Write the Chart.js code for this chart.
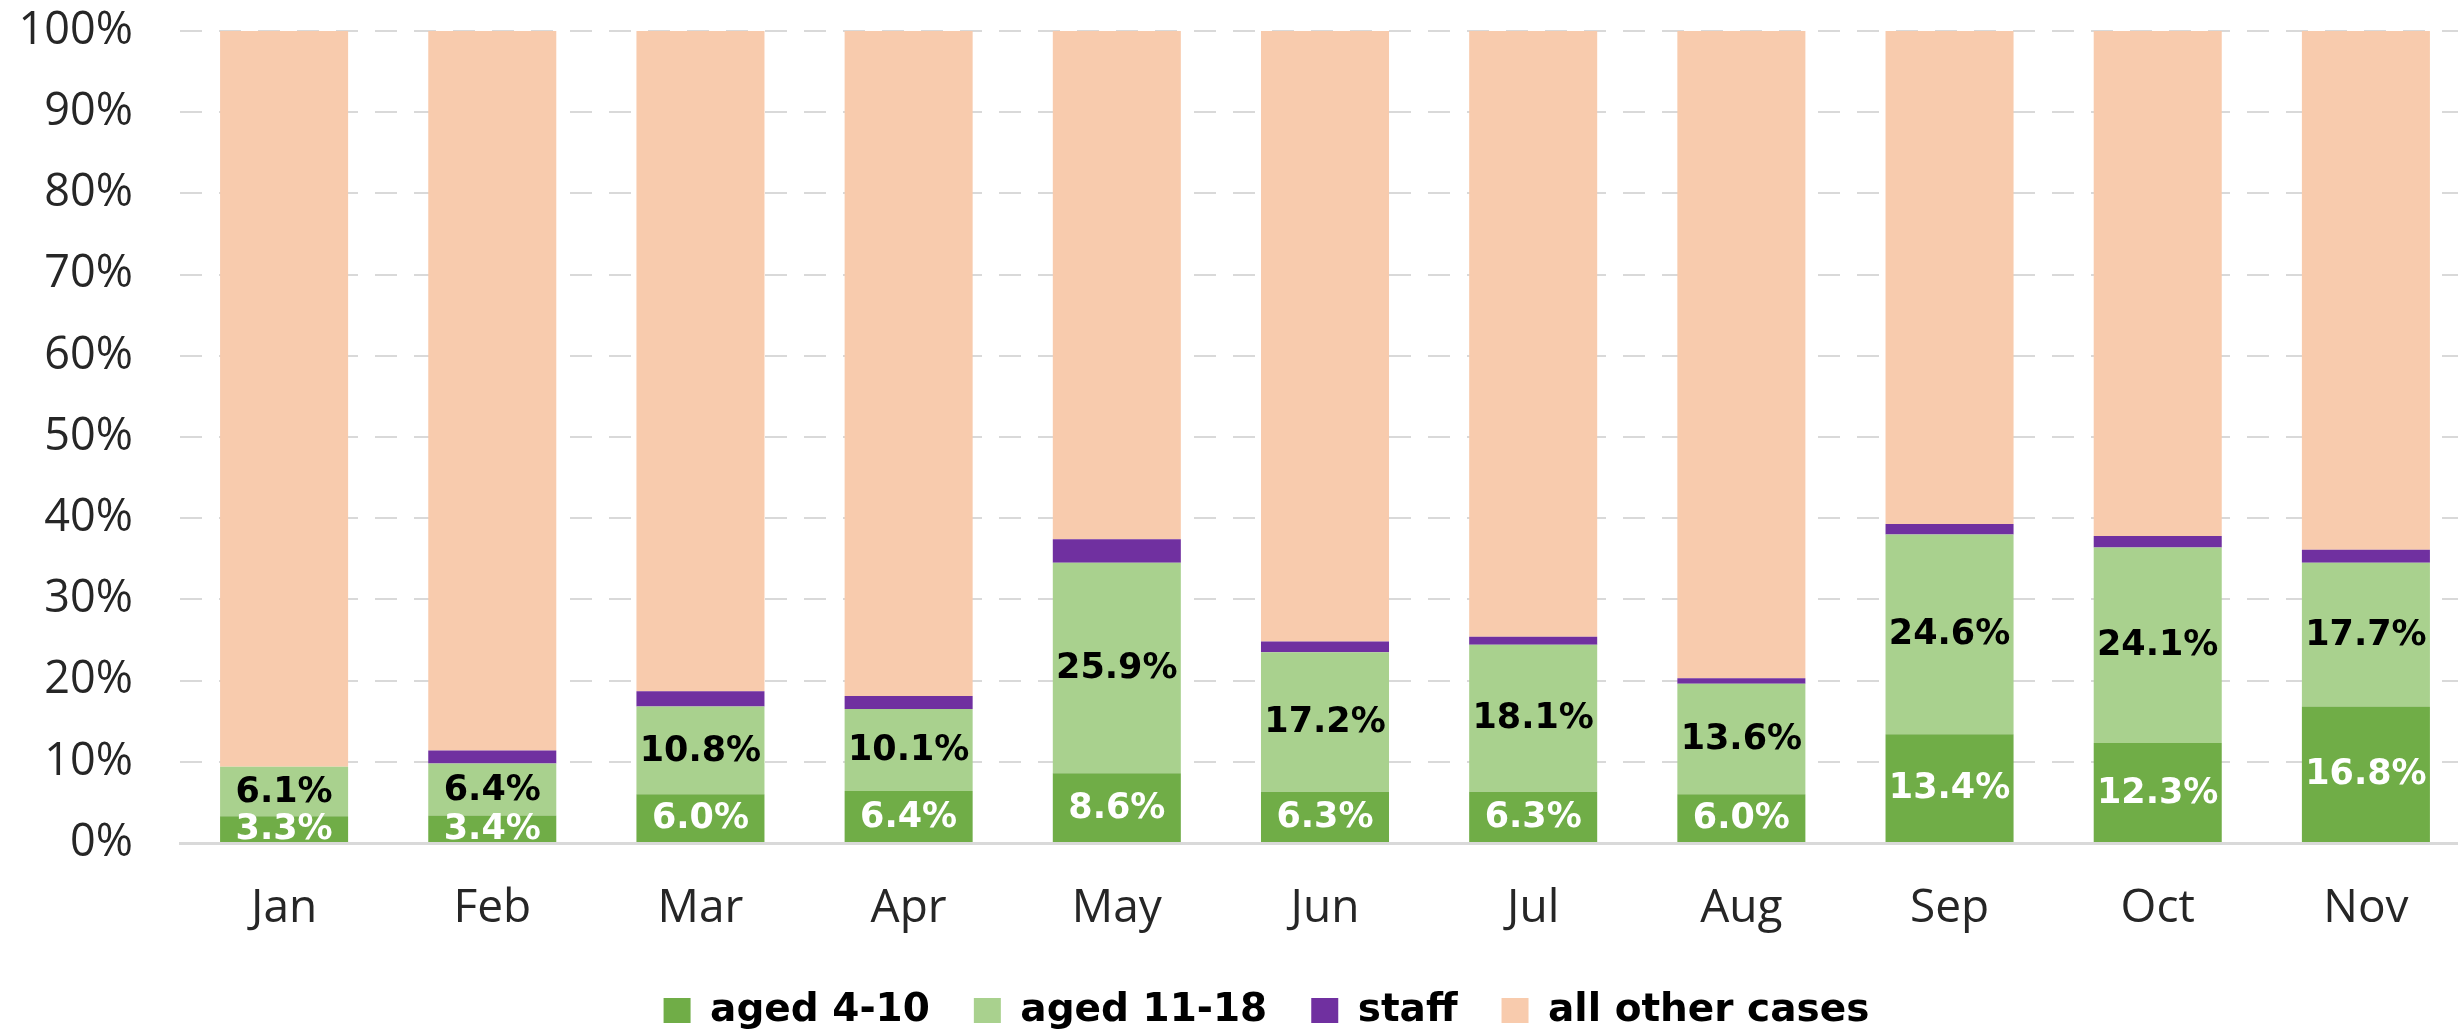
<!DOCTYPE html>
<html>
<head>
<meta charset="utf-8">
<script src="https://cdn.jsdelivr.net/npm/chart.js@4"></script>
<style>
  html, body { margin: 0; padding: 0; background: #fff; overflow: hidden; }
  #wrap { width: 2470px; height: 1040px; position: relative; }
</style>
</head>
<body>
<div id="wrap"><canvas id="casesChart"></canvas></div>
<script>
// --- chart data (percent of all cases per month) ---
const months = ['Jan', 'Feb', 'Mar', 'Apr', 'May', 'Jun', 'Jul', 'Aug', 'Sep', 'Oct', 'Nov'];
const aged4to10 = [3.3, 3.4, 6.0, 6.4, 8.6, 6.3, 6.3, 6.0, 13.4, 12.3, 16.8];
const aged11to18 = [6.1, 6.4, 10.8, 10.1, 25.9, 17.2, 18.1, 13.6, 24.6, 24.1, 17.7];
const staff = [0.0, 1.6, 1.9, 1.6, 2.9, 1.3, 1.0, 0.7, 1.3, 1.4, 1.6];
const otherCases = [90.6, 88.6, 81.3, 81.9, 62.6, 75.2, 74.6, 79.7, 60.7, 62.2, 63.9];
const yTicks = [0, 10, 20, 30, 40, 50, 60, 70, 80, 90, 100];

// --- labels inside the two green segments, clipped to the plot ---
const segmentLabels = {
    id: 'segmentLabels',
    afterLayout(chart) {
        // legend is centred a little right of the canvas middle
        if (chart.legend) chart.legend.left = 63;
    },
    afterDatasetsDraw(chart) {
        const ctx = chart.ctx;
        const area = chart.chartArea;
        ctx.save();
        ctx.beginPath();
        ctx.rect(area.left, area.top, area.right - area.left, area.bottom - area.top);
        ctx.clip();
        ctx.font = 'bold 35px "DejaVu Sans"';
        ctx.textAlign = 'center';
        ctx.textBaseline = 'middle';
        [0, 1].forEach(i => {
            const meta = chart.getDatasetMeta(i);
            const values = chart.data.datasets[i].data;
            ctx.fillStyle = i === 0 ? '#ffffff' : '#000000';
            meta.data.forEach((bar, j) => {
                const y = (bar.y + bar.base) / 2;
                ctx.fillText(values[j].toFixed(1) + '%', bar.x, y + 1);
            });
        });
        ctx.restore();
    }
};

const ctx = document.getElementById('casesChart').getContext('2d');
new Chart(ctx, {
    type: 'bar',
    data: {
        labels: months,
        datasets: [
            { label: 'aged 4-10', data: aged4to10, backgroundColor: '#70AD47' },
            { label: 'aged 11-18', data: aged11to18, backgroundColor: '#A9D18E' },
            { label: 'staff', data: staff, backgroundColor: '#7030A0' },
            { label: 'all other cases', data: otherCases, backgroundColor: '#F8CBAD' }
        ]
    },
    options: {
        responsive: true,
        maintainAspectRatio: false,
        animation: false,
        layout: { padding: { left: 0, right: 0, top: 31, bottom: 0 } },
        datasets: {
            bar: { categoryPercentage: 1.0, barPercentage: 0.615, borderWidth: 0 }
        },
        scales: {
            x: {
                stacked: true,
                grid: { display: false, drawTicks: false },
                border: { display: true, color: '#d9d9d9', width: 3 },
                ticks: {
                    color: '#262626',
                    padding: 38,
                    font: { family: '"Open Sans"', size: 46 }
                },
                afterFit: (scale) => { scale.height = 104; }
            },
            y: {
                stacked: true,
                min: 0,
                max: 100,
                afterBuildTicks: (scale) => { scale.ticks = yTicks.map(v => ({ value: v })); },
                grid: {
                    color: '#d9d9d9',
                    lineWidth: 2,
                    drawTicks: true,
                    tickLength: 47,
                    tickColor: 'rgba(0,0,0,0)'
                },
                border: { display: false, dash: [22, 17] },
                ticks: {
                    color: '#262626',
                    padding: 0,
                    font: { family: '"Open Sans"', size: 45 },
                    callback: (v) => v + '%'
                },
                afterFit: (scale) => { scale.width = 180; }
            }
        },
        plugins: {
            legend: {
                position: 'bottom',
                labels: {
                    boxWidth: 27,
                    boxHeight: 25,
                    padding: 44,
                    color: '#000000',
                    font: { family: '"DejaVu Sans"', size: 39, weight: 'bold' }
                }
            },
            tooltip: { enabled: false }
        }
    },
    plugins: [segmentLabels]
});
</script>
</body>
</html>
